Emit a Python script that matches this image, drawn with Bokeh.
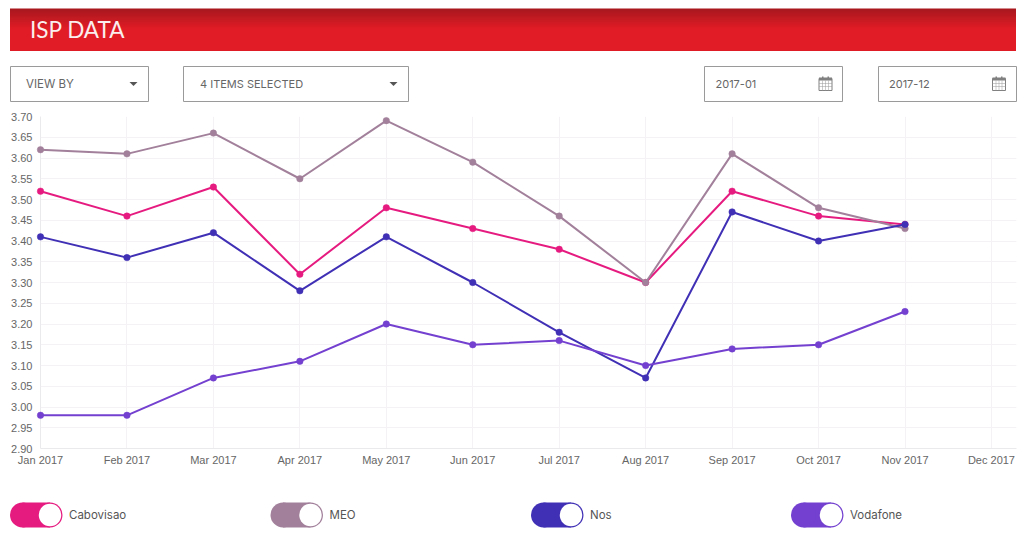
from bokeh.core.properties import value
from bokeh.embed import file_html
from bokeh.layouts import column
from bokeh.models import FixedTicker, Range1d
from bokeh.plotting import figure
from bokeh.resources import INLINE

months = ["Jan 2017", "Feb 2017", "Mar 2017", "Apr 2017", "May 2017", "Jun 2017",
          "Jul 2017", "Aug 2017", "Sep 2017", "Oct 2017", "Nov 2017", "Dec 2017"]
cabovisao = [3.52, 3.46, 3.53, 3.32, 3.48, 3.43, 3.38, 3.30, 3.52, 3.46, 3.44]
meo = [3.62, 3.61, 3.66, 3.55, 3.69, 3.59, 3.46, 3.30, 3.61, 3.48, 3.43]
nos = [3.41, 3.36, 3.42, 3.28, 3.41, 3.30, 3.18, 3.07, 3.47, 3.40, 3.44]
vodafone = [2.98, 2.98, 3.07, 3.11, 3.20, 3.15, 3.16, 3.10, 3.14, 3.15, 3.23]
y_ticks = [2.90, 2.95, 3.00, 3.05, 3.10, 3.15, 3.20, 3.25, 3.30, 3.35, 3.40, 3.45,
           3.50, 3.55, 3.60, 3.65, 3.70]
series = [("Cabovisao", cabovisao, "#e61b80"), ("MEO", meo, "#a2809b"),
          ("Nos", nos, "#4030b5"), ("Vodafone", vodafone, "#7340cf")]

W = 1018
TOP_H, MID_H, BOT_H = 105, 390, 45
FL, FT, FR, FB = 40, 116, 1016, 448  # plot frame in page pixels


def pixel_figure(y0, height, dy):
    """A blank figure whose data coordinates are page pixels."""
    f = figure(width=W, height=height, output_backend="svg", toolbar_location=None,
               x_range=Range1d(0.5, W + 0.5), y_range=Range1d(y0 + height + dy, y0 + dy),
               min_border=0, x_axis_location=None, y_axis_location=None,
               frame_align=False)
    f.grid.visible = False
    f.outline_line_color = None
    return f


top = pixel_figure(0, TOP_H, 1)
bot = pixel_figure(TOP_H + MID_H, BOT_H, 0)


def box(f, l, t, r, b, fill=None, line=None, lw=1):
    f.quad(left=l, right=r, top=t, bottom=b, fill_color=fill,
           fill_alpha=1 if fill else 0, line_color=line, line_width=lw,
           line_alpha=1 if line else 0)


def label(f, x, y, text, size, color, font="Inter", align="left"):
    f.text([x], [y], text=[text], text_font=value(font), text_font_size=f"{size}px",
           text_color=color, text_align=align, text_baseline="middle")


# header band with gradient: each row painted down to the band's bottom edge
top_c, bot_c = (168, 24, 31), (226, 28, 38)
for i, y in enumerate(range(9, 30)):
    t = min(1.0, i / 20)
    c = tuple(round(a + (b - a) * t) for a, b in zip(top_c, bot_c))
    box(top, 10, y, 1016, 51, fill="#%02x%02x%02x" % c)
label(top, 30, 29.5, "ISP DATA", 22.5, "#fbeeee", font="Lato")

# controls
for l, r in [(10.5, 148.5), (183.5, 408.5), (704.5, 842.5), (878.5, 1016.5)]:
    box(top, l, 67, r, 102, fill="#ffffff", line="#9a9a9a")
label(top, 26, 84.5, "VIEW BY", 11.5, "#666666")
label(top, 200, 84.5, "4 ITEMS SELECTED", 11, "#666666")
for ax_, ay in [(133.5, 84.5), (393.5, 84.5)]:
    top.patch([ax_ - 4, ax_ + 4, ax_], [ay - 2, ay - 2, ay + 2], fill_color="#555555", line_color=None)
label(top, 715.5, 84.5, "2017-01", 11, "#666666")
label(top, 889, 84.5, "2017-12", 11, "#666666")
for cx in (825.5, 999):
    box(top, cx - 6.5, 79, cx + 6.5, 91, fill="#ffffff", line="#808080")
    box(top, cx - 6.5, 78, cx + 6.5, 81, fill="#808080")
    for dx in (-3, 0, 3):
        box(top, cx + dx - 0.25, 81, cx + dx + 0.25, 91, fill="#9a9a9a")
    for yy in (84, 87):
        box(top, cx - 6.5, yy - 0.25, cx + 6.5, yy + 0.25, fill="#9a9a9a")
    for dx in (-3.5, 2):
        box(top, cx + dx, 77, cx + dx + 1.5, 80, fill="#808080")

# chart
p = figure(width=W, height=MID_H, output_backend="svg", toolbar_location=None,
           x_range=Range1d(0, (FR - FL) / 86.45), y_range=Range1d(2.90, 3.70),
           min_border_left=FL, min_border_right=W - FR,
           min_border_top=FT - TOP_H, min_border_bottom=TOP_H + MID_H - FB,
           frame_align=False)
p.outline_line_color = None
p.xaxis.ticker = FixedTicker(ticks=list(range(len(months))))
p.xaxis.major_label_overrides = {i: m for i, m in enumerate(months)}
p.yaxis.ticker = FixedTicker(ticks=y_ticks)
p.yaxis.major_label_overrides = {t: f"{t:.2f}" for t in y_ticks}
for ax in (p.xaxis[0], p.yaxis[0]):
    ax.axis_line_color = "#eaeaec"
    ax.major_tick_line_color = None
    ax.major_tick_out = 0
    ax.major_tick_in = 0
    ax.minor_tick_line_color = None
    ax.major_label_text_font = "Liberation Sans"
    ax.major_label_text_font_size = "11px"
    ax.major_label_text_color = "#666666"
p.xaxis.major_label_standoff = 5
p.yaxis.major_label_standoff = 8
p.grid.grid_line_color = "#f4f2f5"
p.xgrid.ticker = FixedTicker(ticks=list(range(len(months))))
p.ygrid.ticker = FixedTicker(ticks=y_ticks)

for name, vals, col in series:
    xs = list(range(len(vals)))
    p.line(xs, vals, line_color=col, line_width=2, level="overlay")
    p.scatter(xs, vals, size=6.5, fill_color=col, line_color=col, line_width=0.5, level="overlay")

# legend toggles
for (name, vals, col), x0 in zip(series, (10, 270.5, 531, 791)):
    box(bot, x0 + 12.5, 502, x0 + 40, 527, fill=col)
    bot.scatter([x0 + 12.5, x0 + 40], [514.5, 514.5], size=25, marker="circle",
                fill_color=col, line_color=None)
    bot.scatter([x0 + 40], [514.5], size=22.5, marker="circle",
                fill_color="#ffffff", line_color=None)
    label(bot, x0 + 59, 514.5, name, 11.5, "#555555")

layout = column(top, p, bot, spacing=0)
open("out.html", "w").write(file_html(layout, INLINE))
